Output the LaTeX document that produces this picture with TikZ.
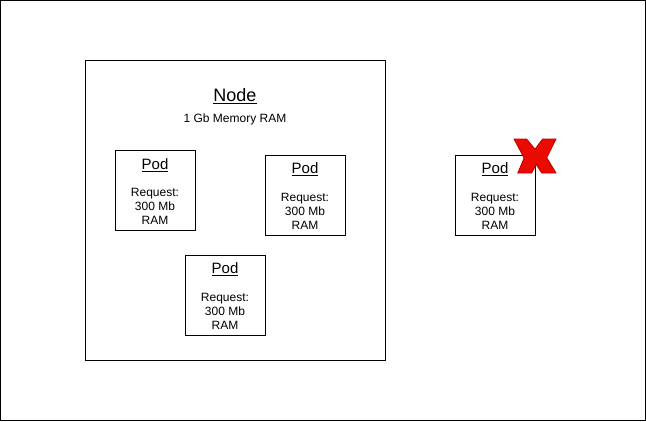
\documentclass[tikz,border=0pt]{standalone}
\usepackage{fontspec}
\setmainfont{Liberation Sans}
\definecolor{xfill}{RGB}{235,10,0}
\definecolor{xline}{RGB}{190,0,0}
\begin{document}
\begin{tikzpicture}[x=1pt, y=-1pt, line width=1pt,
  box/.style={draw, rectangle, inner sep=0pt},
  title/.style={font=\fontsize{15}{18}\selectfont},
  req/.style={font=\fontsize{12}{14}\selectfont, align=center}]
  \useasboundingbox (0,0) rectangle (646,421);
  \draw (0.5,0.5) rectangle (645.5,420.5);

  % the node
  \node[box, minimum width=300pt, minimum height=300pt] (N) at (235,210) {};
  \node[font=\fontsize{18}{21}\selectfont] (Nt) at (235,96) {\underline{Node}};
  \node[font=\fontsize{12}{14}\selectfont] (Nm) at (235,119) {1 Gb Memory RAM};

  % pods
  \node[box, minimum size=80pt] (P1) at (155,190) {};
  \node[title] (P1t) at (155,165) {\underline{Pod}};
  \node[req] (P1r) at (155,206) {Request:\\300 Mb\\RAM};

  \node[box, minimum size=80pt] (P2) at (305,195) {};
  \node[title] (P2t) at (305,169) {\underline{Pod}};
  \node[req] (P2r) at (305,211) {Request:\\300 Mb\\RAM};

  \node[box, minimum size=80pt] (P3) at (225,295) {};
  \node[title] (P3t) at (225,269) {\underline{Pod}};
  \node[req] (P3r) at (225,311) {Request:\\300 Mb\\RAM};

  \node[box, minimum size=80pt] (P4) at (495,195) {};
  \node[title] (P4t) at (495,169) {\underline{Pod}};
  \node[req] (P4r) at (495,211) {Request:\\300 Mb\\RAM};

  % red cross
  \begin{scope}[shift={(514,139)}, x=42pt, y=-34pt]
    \filldraw[fill=xfill, draw=xline, line width=0.8pt]
      (0,0) -- (0.3,0) -- (0.5,0.3) -- (0.68,0) -- (1,0) -- (0.78,0.55)
      -- (1,1) -- (0.66,1) -- (0.53,0.75) -- (0.42,1) -- (0.09,1) -- (0.24,0.56) -- cycle;
  \end{scope}
\end{tikzpicture}
\end{document}
